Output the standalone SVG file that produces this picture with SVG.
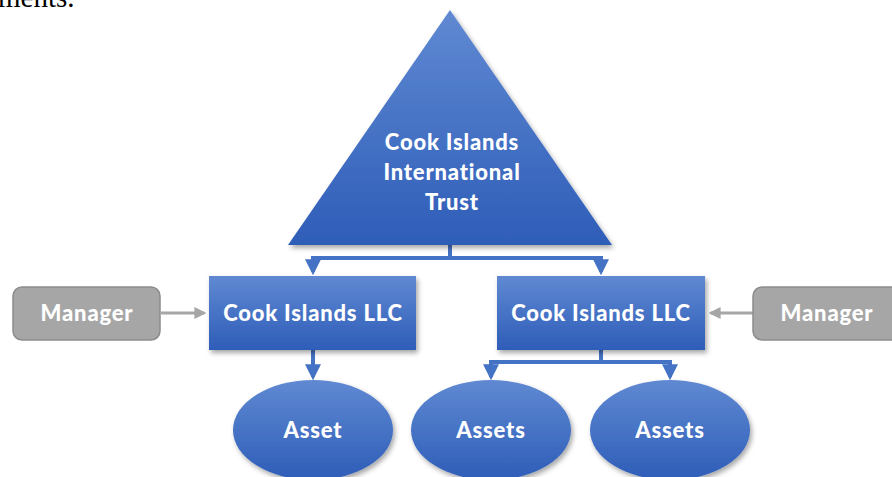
<svg xmlns="http://www.w3.org/2000/svg" width="892" height="477" viewBox="0 0 892 477">
<defs>
<linearGradient id="bg" x1="0" y1="0" x2="0" y2="1">
<stop offset="0" stop-color="#6089d2"/>
<stop offset="1" stop-color="#2e5db8"/>
</linearGradient>
<filter id="sh" x="-10%" y="-10%" width="125%" height="130%">
<feDropShadow dx="2" dy="3" stdDeviation="2.5" flood-color="#000" flood-opacity="0.35"/>
</filter>
<marker id="ab" viewBox="0 0 10 10" refX="8" refY="5" markerWidth="4" markerHeight="4" orient="auto" markerUnits="strokeWidth">
<path d="M0,0 L10,5 L0,10 Z" fill="#4472c4"/>
</marker>
<marker id="ag" viewBox="0 0 10 10" refX="8" refY="5" markerWidth="4" markerHeight="4" orient="auto" markerUnits="strokeWidth">
<path d="M0,0 L10,5 L0,10 Z" fill="#a6a6a6"/>
</marker>
<style>
.lbl{font-family:"Lato","DejaVu Sans",sans-serif;font-weight:900;fill:#fff;text-anchor:middle;font-size:22px;letter-spacing:0.8px}
.blue{fill:url(#bg);filter:url(#sh)}
.mgr{fill:#a6a6a6;stroke:#8c8c8c;stroke-width:1.5}
.cb{fill:none;stroke:#4472c4;stroke-width:4}
.cg{fill:none;stroke:#a6a6a6;stroke-width:3}
</style>
</defs>
<text x="-2" y="7" font-family="Liberation Serif, serif" font-size="29" fill="#000">ments.</text>
<g id="connectors">
<path class="cb" d="M450,245 V258 H313 V272" marker-end="url(#ab)"/>
<path class="cb" d="M450,258 H601 V272" marker-end="url(#ab)"/>
<path class="cb" d="M313,350 V377" marker-end="url(#ab)"/>
<path class="cb" d="M601,350 V362 H491 V377" marker-end="url(#ab)"/>
<path class="cb" d="M601,362 H670 V377" marker-end="url(#ab)"/>
<path class="cg" d="M161,313 H204" marker-end="url(#ag)"/>
<path class="cg" d="M753,313 H711" marker-end="url(#ag)"/>
</g>
<g id="trust">
<polygon class="blue" points="450,10 612,245 288,245"/>
<text class="lbl" x="452" y="150">Cook Islands</text>
<text class="lbl" x="452" y="180">International</text>
<text class="lbl" x="452" y="210">Trust</text>
</g>
<g id="llc-left">
<rect class="blue" x="209" y="276" width="207" height="74"/>
<text class="lbl" x="313" y="321">Cook Islands LLC</text>
</g>
<g id="llc-right">
<rect class="blue" x="497" y="276" width="208" height="74"/>
<text class="lbl" x="601" y="321">Cook Islands LLC</text>
</g>
<g id="manager-left">
<rect class="mgr" x="13" y="287" width="147" height="53" rx="9"/>
<text class="lbl" x="87" y="321">Manager</text>
</g>
<g id="manager-right">
<rect class="mgr" x="753" y="287" width="150" height="53" rx="9"/>
<text class="lbl" x="827" y="321">Manager</text>
</g>
<g id="asset">
<ellipse class="blue" cx="313" cy="430" rx="80" ry="50"/>
<text class="lbl" x="313" y="438">Asset</text>
</g>
<g id="assets-1">
<ellipse class="blue" cx="491" cy="430" rx="80" ry="50"/>
<text class="lbl" x="491" y="438">Assets</text>
</g>
<g id="assets-2">
<ellipse class="blue" cx="670" cy="430" rx="80" ry="50"/>
<text class="lbl" x="670" y="438">Assets</text>
</g>
</svg>
